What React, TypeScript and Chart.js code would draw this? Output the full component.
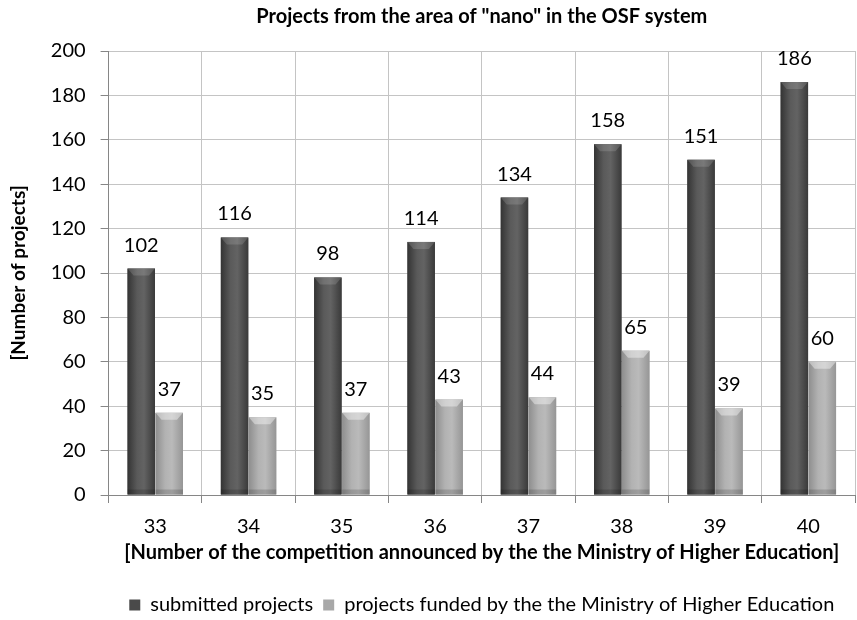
import React, { useEffect, useRef } from "react";
import { Chart, registerables } from "chart.js";

Chart.register(...registerables);

const categories = ["33", "34", "35", "36", "37", "38", "39", "40"];
const submitted = [102, 116, 98, 114, 134, 158, 151, 186];
const funded = [37, 35, 37, 43, 44, 65, 39, 60];
const yTicks = [0, 20, 40, 60, 80, 100, 120, 140, 160, 180, 200];

const FONT = "Lato, 'Open Sans', 'DejaVu Sans', sans-serif";

const gradientBars = {
  id: "gradientBars",
  afterDatasetsDraw(chart: any) {
    const ctx = chart.ctx;
    ctx.save();
    chart.data.datasets.forEach((ds: any, di: number) => {
      const meta = chart.getDatasetMeta(di);
      const stops =
        di === 0
          ? ["#343434", "#5a5a5a", "#636363", "#3a3a3a"]
          : ["#8e8e8e", "#b2b2b2", "#bababa", "#969696"];
      meta.data.forEach((el: any) => {
        const w = el.width;
        const x0 = el.x - w / 2;
        const top = el.y;
        const h = el.base - el.y;
        const g = ctx.createLinearGradient(x0, 0, x0 + w, 0);
        g.addColorStop(0, stops[0]);
        g.addColorStop(0.35, stops[1]);
        g.addColorStop(0.6, stops[2]);
        g.addColorStop(1, stops[3]);
        ctx.fillStyle = g;
        ctx.fillRect(x0, top, w, h);
        ctx.fillStyle = di === 0 ? "rgba(255,255,255,0.14)" : "rgba(255,255,255,0.4)";
        ctx.beginPath();
        ctx.moveTo(x0, top);
        ctx.lineTo(x0 + w, top);
        ctx.lineTo(x0 + w - 6, top + 7);
        ctx.lineTo(x0 + 6, top + 7);
        ctx.closePath();
        ctx.fill();
        ctx.fillStyle = "rgba(0,0,0,0.15)";
        ctx.fillRect(x0, el.base - 5, w, 5);
      });
    });
    ctx.fillStyle = "#000";
    ctx.font = `20px ${FONT}`;
    ctx.textAlign = "center";
    ctx.textBaseline = "alphabetic";
    chart.data.datasets.forEach((ds: any, di: number) => {
      const meta = chart.getDatasetMeta(di);
      meta.data.forEach((el: any, i: number) => {
        ctx.fillText(String(ds.data[i]), el.x, el.y - 17);
      });
    });
    ctx.restore();
  },
};

export default function App() {
  const ref = useRef<HTMLCanvasElement | null>(null);
  useEffect(() => {
    document.body.style.margin = "0";
    const chart = new Chart(ref.current as HTMLCanvasElement, {
      type: "bar",
      data: {
        labels: categories,
        datasets: [
          {
            label: "submitted projects",
            data: submitted,
            backgroundColor: "#4a4a4a",
            categoryPercentage: 0.6,
            barPercentage: 0.98,
          },
          {
            label: "projects funded by the the Ministry of Higher Education",
            data: funded,
            backgroundColor: "#a8a8a8",
            categoryPercentage: 0.6,
            barPercentage: 0.98,
          },
        ],
      },
      options: {
        animation: false,
        responsive: true,
        maintainAspectRatio: false,
        layout: { padding: { left: 0, right: 2, top: 0, bottom: -5 } },
        plugins: {
          title: {
            display: true,
            fullSize: false,
            text: 'Projects from the area of "nano" in the OSF system',
            color: "#000",
            font: { family: FONT, size: 20, weight: "bold" },
            padding: { top: 5, bottom: 22 },
          },
          legend: {
            position: "bottom",
            fullSize: false,
            labels: {
              color: "#000",
              font: { family: FONT, size: 20 },
              boxWidth: 11,
              boxHeight: 11,
              padding: 10,
            },
          },
          tooltip: { enabled: false },
        },
        scales: {
          x: {
            ticks: { color: "#000", font: { family: FONT, size: 20 }, padding: 12 },
            grid: { color: "#c4c4c4", tickColor: "#868686", tickLength: 8 },
            border: { color: "#868686" },
            title: {
              display: true,
              text: "[Number of the competition announced by the the Ministry of Higher Education]",
              color: "#000",
              font: { family: FONT, size: 20, weight: "bold" },
              padding: { top: -10, bottom: 20 },
            },
          },
          y: {
            min: 0,
            max: 200,
            afterBuildTicks: (axis: any) => {
              axis.ticks = yTicks.map((v) => ({ value: v }));
            },
            ticks: { color: "#000", font: { family: FONT, size: 20 }, padding: 15 },
            grid: { color: "#c4c4c4", tickColor: "#868686", tickLength: 8 },
            border: { color: "#868686" },
            title: {
              display: true,
              text: "[Number of projects]",
              color: "#000",
              font: { family: FONT, size: 19, weight: "bold" },
              padding: { top: 7, bottom: 6 },
            },
          },
        },
      },
      plugins: [gradientBars],
    } as any);
    return () => chart.destroy();
  }, []);
  return (
    <div style={{ width: 857, height: 620, position: "relative" }}>
      <canvas ref={ref} />
    </div>
  );
}
